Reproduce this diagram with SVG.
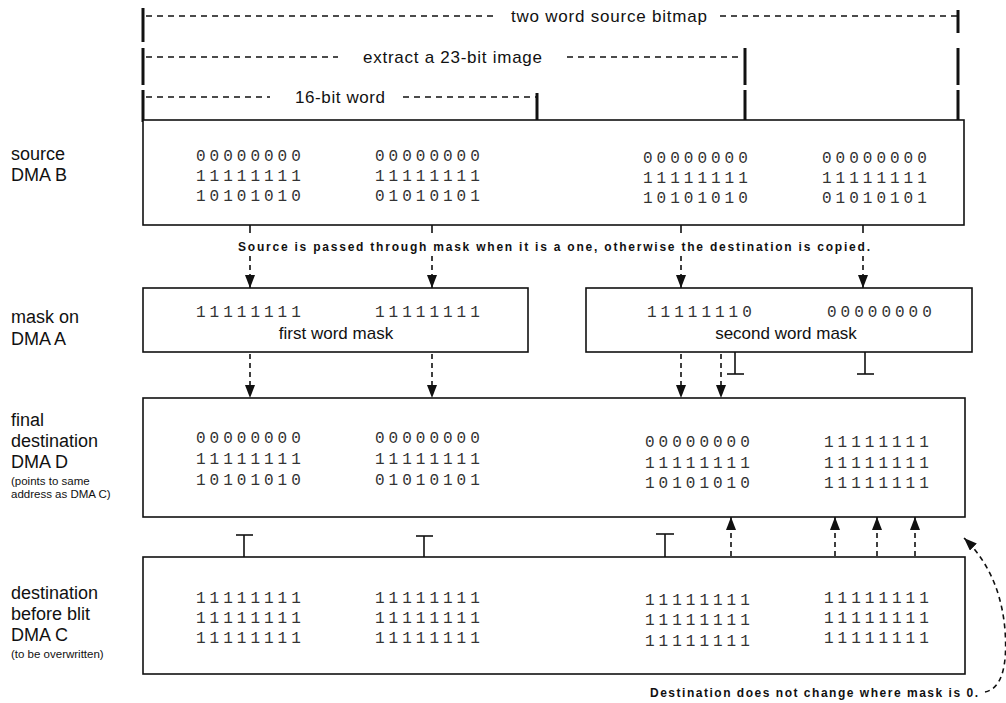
<svg xmlns="http://www.w3.org/2000/svg" width="1006" height="703" viewBox="0 0 1006 703">
<defs>
<style>
.box{fill:#fff;stroke:#111;stroke-width:1.6}
.bits{font-family:"Liberation Mono",monospace;font-size:16px;letter-spacing:4px;fill:#333}
.lbl{font-family:"Liberation Sans",Arial,sans-serif;font-size:18px;fill:#111}
.mid{font-family:"Liberation Sans",Arial,sans-serif;font-size:17px;fill:#111}
.sm{font-family:"Liberation Sans",Arial,sans-serif;font-size:11.5px;fill:#111}
.note{font-family:"Liberation Sans",Arial,sans-serif;font-size:12px;font-weight:bold;fill:#111}
.rl{stroke:#111;stroke-width:1.4;stroke-dasharray:6 5;fill:none}
.bar{stroke:#111;stroke-width:3;fill:none}
.dash{stroke:#111;stroke-width:1.6;stroke-dasharray:5 4;fill:none}
.sol{stroke:#111;stroke-width:1.6;fill:none}
</style>
<marker id="ah" viewBox="0 0 13 10" refX="13" refY="5" markerWidth="13" markerHeight="10" markerUnits="userSpaceOnUse" orient="auto">
<path d="M0,0 L13,5 L0,10 Z" fill="#111"/>
</marker>
</defs>
<rect width="1006" height="703" fill="#fff"/>

<g id="rulers">
<line class="bar" x1="143" y1="8" x2="143" y2="42"/>
<line class="bar" x1="143" y1="48" x2="143" y2="85"/>
<line class="bar" x1="143" y1="90" x2="143" y2="122"/>
<line class="bar" x1="958" y1="10" x2="958" y2="33"/>
<line class="bar" x1="958" y1="48" x2="958" y2="85"/>
<line class="bar" x1="958" y1="90" x2="958" y2="127"/>
<line class="bar" x1="745" y1="48" x2="745" y2="85"/>
<line class="bar" x1="745" y1="90" x2="745" y2="127"/>
<line class="bar" x1="537" y1="93" x2="537" y2="127"/>
<line class="rl" x1="146" y1="16" x2="497" y2="16"/>
<line class="rl" x1="720" y1="16" x2="957" y2="16"/>
<text class="mid" x="511" y="22" textLength="196" lengthAdjust="spacing">two word source bitmap</text>
<line class="rl" x1="146" y1="57" x2="338" y2="57"/>
<line class="rl" x1="567" y1="57" x2="743" y2="57"/>
<text class="mid" x="363" y="63" textLength="179" lengthAdjust="spacing">extract a 23-bit image</text>
<line class="rl" x1="146" y1="97" x2="270" y2="97"/>
<line class="rl" x1="403" y1="97" x2="536" y2="97"/>
<text class="mid" x="295" y="103" textLength="90" lengthAdjust="spacing">16-bit word</text>
</g>

<g id="labels">
<text class="lbl" x="11" y="160">source</text>
<text class="lbl" x="11" y="181">DMA B</text>
<text class="lbl" x="11" y="323">mask on</text>
<text class="lbl" x="11" y="345">DMA A</text>
<text class="lbl" x="11" y="426">final</text>
<text class="lbl" x="11" y="447">destination</text>
<text class="lbl" x="11" y="468">DMA D</text>
<text class="sm" x="11" y="485">(points to same</text>
<text class="sm" x="11" y="498">address as DMA C)</text>
<text class="lbl" x="11" y="599">destination</text>
<text class="lbl" x="11" y="620">before blit</text>
<text class="lbl" x="11" y="641">DMA C</text>
<text class="sm" x="11" y="658">(to be overwritten)</text>
</g>

<g id="source">
<rect class="box" x="143" y="120" width="821" height="105"/>
<text class="bits" x="196" y="161">00000000</text>
<text class="bits" x="196" y="181">11111111</text>
<text class="bits" x="196" y="201">10101010</text>
<text class="bits" x="375" y="161">00000000</text>
<text class="bits" x="375" y="181">11111111</text>
<text class="bits" x="375" y="201">01010101</text>
<text class="bits" x="643" y="163">00000000</text>
<text class="bits" x="643" y="183">11111111</text>
<text class="bits" x="643" y="203">10101010</text>
<text class="bits" x="822" y="163">00000000</text>
<text class="bits" x="822" y="183">11111111</text>
<text class="bits" x="822" y="203">01010101</text>
</g>

<g id="mask1">
<rect class="box" x="143" y="288" width="385" height="64"/>
<text class="bits" x="196" y="317">11111111</text>
<text class="bits" x="375" y="317">11111111</text>
<text class="mid" x="336" y="339" text-anchor="middle">first word mask</text>
</g>

<g id="mask2">
<rect class="box" x="586" y="288" width="386" height="64"/>
<text class="bits" x="647" y="317">11111110</text>
<text class="bits" x="827" y="317">00000000</text>
<text class="mid" x="786" y="339" text-anchor="middle">second word mask</text>
</g>

<g id="dest">
<rect class="box" x="143" y="398" width="822" height="119"/>
<text class="bits" x="196" y="443">00000000</text>
<text class="bits" x="196" y="464">11111111</text>
<text class="bits" x="196" y="485">10101010</text>
<text class="bits" x="375" y="443">00000000</text>
<text class="bits" x="375" y="464">11111111</text>
<text class="bits" x="375" y="485">01010101</text>
<text class="bits" x="645" y="447">00000000</text>
<text class="bits" x="645" y="468">11111111</text>
<text class="bits" x="645" y="488">10101010</text>
<text class="bits" x="824" y="447">11111111</text>
<text class="bits" x="824" y="468">11111111</text>
<text class="bits" x="824" y="488">11111111</text>
</g>

<g id="destC">
<rect class="box" x="143" y="557" width="822" height="117"/>
<text class="bits" x="196" y="603">11111111</text>
<text class="bits" x="196" y="623">11111111</text>
<text class="bits" x="196" y="643">11111111</text>
<text class="bits" x="375" y="603">11111111</text>
<text class="bits" x="375" y="623">11111111</text>
<text class="bits" x="375" y="643">11111111</text>
<text class="bits" x="645" y="605">11111111</text>
<text class="bits" x="645" y="625">11111111</text>
<text class="bits" x="645" y="646">11111111</text>
<text class="bits" x="824" y="603">11111111</text>
<text class="bits" x="824" y="623">11111111</text>
<text class="bits" x="824" y="643">11111111</text>
</g>

<g id="notes">
<text class="note" x="238" y="251" textLength="632" lengthAdjust="spacing">Source is passed through mask when it is a one, otherwise the destination is copied.</text>
<text class="note" x="650" y="697" textLength="328" lengthAdjust="spacing">Destination does not change where mask is 0.</text>
</g>

<g id="connectors">
<line class="sol" x1="250" y1="225" x2="250" y2="233"/>
<line class="dash" x1="250" y1="256" x2="250" y2="288" marker-end="url(#ah)"/>
<line class="sol" x1="432" y1="225" x2="432" y2="233"/>
<line class="dash" x1="432" y1="256" x2="432" y2="288" marker-end="url(#ah)"/>
<line class="sol" x1="681" y1="225" x2="681" y2="233"/>
<line class="dash" x1="681" y1="256" x2="681" y2="288" marker-end="url(#ah)"/>
<line class="sol" x1="863" y1="225" x2="863" y2="233"/>
<line class="dash" x1="863" y1="256" x2="863" y2="288" marker-end="url(#ah)"/>

<line class="dash" x1="250" y1="354" x2="250" y2="398" marker-end="url(#ah)"/>
<line class="dash" x1="432" y1="354" x2="432" y2="398" marker-end="url(#ah)"/>
<line class="dash" x1="681" y1="354" x2="681" y2="398" marker-end="url(#ah)"/>
<line class="dash" x1="721" y1="354" x2="721" y2="398" marker-end="url(#ah)"/>

<line class="sol" x1="735" y1="352" x2="735" y2="374"/>
<line class="sol" x1="727" y1="374" x2="744" y2="374"/>
<line class="sol" x1="865" y1="352" x2="865" y2="374"/>
<line class="sol" x1="857" y1="374" x2="874" y2="374"/>

<line class="sol" x1="244" y1="557" x2="244" y2="535"/>
<line class="sol" x1="236" y1="535" x2="253" y2="535"/>
<line class="sol" x1="424" y1="557" x2="424" y2="536"/>
<line class="sol" x1="416" y1="536" x2="433" y2="536"/>
<line class="sol" x1="665" y1="557" x2="665" y2="534"/>
<line class="sol" x1="656" y1="534" x2="674" y2="534"/>

<line class="dash" x1="731" y1="556" x2="731" y2="517" marker-end="url(#ah)"/>
<line class="dash" x1="835" y1="556" x2="835" y2="517" marker-end="url(#ah)"/>
<line class="dash" x1="877" y1="556" x2="877" y2="517" marker-end="url(#ah)"/>
<line class="dash" x1="915" y1="556" x2="915" y2="517" marker-end="url(#ah)"/>

<path class="dash" d="M985,692 C1000,689 1008,670 1005,630 C1002,595 990,563 964,538" marker-end="url(#ah)"/>
</g>
</svg>
